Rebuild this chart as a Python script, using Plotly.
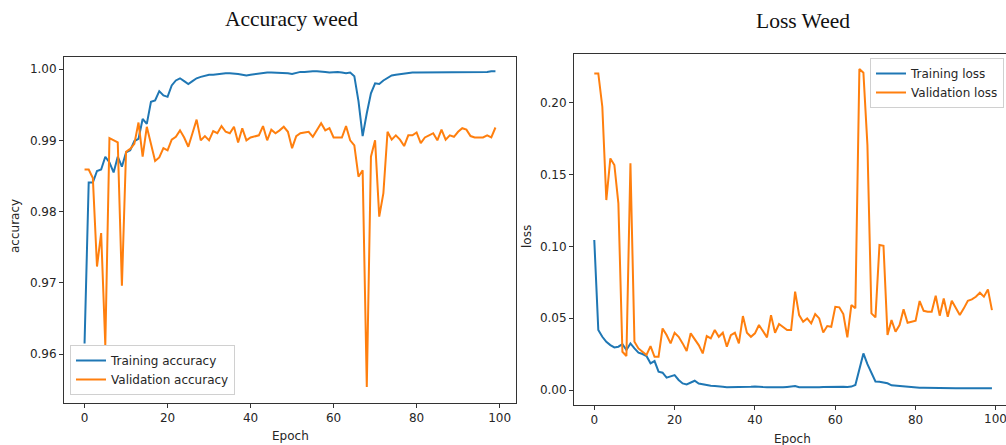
import plotly.graph_objects as go

epochs = list(range(100))

train_acc = [
    0.9615, 0.9841, 0.9841, 0.9857, 0.9859, 0.9877, 0.9869, 0.9855, 0.9877, 0.9863,
    0.9883, 0.9886, 0.9899, 0.9902, 0.9930, 0.9923, 0.9954, 0.9956, 0.9969, 0.9963,
    0.9961, 0.9977, 0.9984, 0.9987, 0.9983, 0.9979, 0.9983, 0.9987, 0.9989, 0.9991,
    0.9992, 0.9992, 0.9993, 0.9993, 0.9994, 0.9994, 0.9994, 0.9993, 0.9992, 0.9991,
    0.9992, 0.9993, 0.9994, 0.9995, 0.9995, 0.9995, 0.9995, 0.9995, 0.9995, 0.9994,
    0.9993, 0.9995, 0.9996, 0.9996, 0.9997, 0.9997, 0.9997, 0.9997, 0.9996, 0.9995,
    0.9996, 0.9996, 0.9995, 0.9994, 0.9995, 0.9990, 0.9955, 0.9906, 0.9938, 0.9966,
    0.9980, 0.9979, 0.9984, 0.9988, 0.9991, 0.9992, 0.9993, 0.9994, 0.9995, 0.9995,
    0.9995, 0.9995, 0.9995, 0.9995, 0.9995, 0.9996, 0.9996, 0.9996, 0.9996, 0.9996,
    0.9996, 0.9996, 0.9996, 0.9996, 0.9996, 0.9996, 0.9996, 0.9996, 0.9997, 0.9997,
]

val_acc = [
    0.9859, 0.9859, 0.9847, 0.9723, 0.9770, 0.9613, 0.9903, 0.9900, 0.9897, 0.9696,
    0.9884, 0.9888, 0.9895, 0.9925, 0.9877, 0.9919, 0.9896, 0.9871, 0.9876, 0.9889,
    0.9886, 0.9901, 0.9905, 0.9914, 0.9904, 0.9891, 0.9910, 0.9929, 0.9900, 0.9906,
    0.9900, 0.9913, 0.9910, 0.9920, 0.9912, 0.9910, 0.9919, 0.9897, 0.9917, 0.9900,
    0.9904, 0.9906, 0.9907, 0.9920, 0.9900, 0.9915, 0.9910, 0.9914, 0.9919, 0.9912,
    0.9889, 0.9906, 0.9910, 0.9911, 0.9912, 0.9905, 0.9914, 0.9924, 0.9914, 0.9917,
    0.9904, 0.9904, 0.9904, 0.9920, 0.9900, 0.9893, 0.9849, 0.9858, 0.9554, 0.9877,
    0.9900, 0.9793, 0.9826, 0.9912, 0.9901, 0.9907, 0.9901, 0.9892, 0.9907, 0.9907,
    0.9911, 0.9896, 0.9904, 0.9907, 0.9910, 0.9900, 0.9915, 0.9901, 0.9907, 0.9905,
    0.9912, 0.9917, 0.9915, 0.9906, 0.9904, 0.9904, 0.9904, 0.9907, 0.9904, 0.9918,
]

train_loss = [
    0.1045, 0.0418, 0.0371, 0.0336, 0.0313, 0.0297, 0.0302, 0.0320, 0.0279, 0.0325,
    0.0290, 0.0260, 0.0251, 0.0237, 0.0186, 0.0202, 0.0128, 0.0121, 0.0086, 0.0097,
    0.0104, 0.0070, 0.0046, 0.0039, 0.0051, 0.0065, 0.0046, 0.0039, 0.0035, 0.0030,
    0.0028, 0.0028, 0.0023, 0.0019, 0.0019, 0.0019, 0.0019, 0.0021, 0.0023, 0.0023,
    0.0025, 0.0021, 0.0021, 0.0020, 0.0019, 0.0019, 0.0018, 0.0019, 0.0022, 0.0026,
    0.0028, 0.0020, 0.0019, 0.0018, 0.0018, 0.0018, 0.0019, 0.0022, 0.0023, 0.0020,
    0.0020, 0.0021, 0.0023, 0.0022, 0.0024, 0.0035, 0.0140, 0.0255, 0.0180, 0.0120,
    0.0060, 0.0058, 0.0055, 0.0047, 0.0033, 0.0030, 0.0029, 0.0026, 0.0020, 0.0018,
    0.0017, 0.0016, 0.0016, 0.0015, 0.0015, 0.0015, 0.0015, 0.0014, 0.0014, 0.0014,
    0.0013, 0.0013, 0.0013, 0.0013, 0.0013, 0.0012, 0.0012, 0.0012, 0.0012, 0.0012,
]

val_loss = [
    0.2205, 0.2205, 0.1973, 0.1323, 0.1613, 0.1567, 0.1300, 0.0267, 0.0237, 0.1579,
    0.0337, 0.0290, 0.0267, 0.0244, 0.0306, 0.0232, 0.0232, 0.0429, 0.0383, 0.0325,
    0.0399, 0.0371, 0.0325, 0.0272, 0.0395, 0.0353, 0.0313, 0.0255, 0.0376, 0.0360,
    0.0418, 0.0371, 0.0399, 0.0302, 0.0383, 0.0399, 0.0325, 0.0515, 0.0399, 0.0371,
    0.0395, 0.0453, 0.0406, 0.0367, 0.0522, 0.0399, 0.0460, 0.0441, 0.0418, 0.0418,
    0.0685, 0.0522, 0.0476, 0.0499, 0.0464, 0.0529, 0.0499, 0.0401, 0.0446, 0.0441,
    0.0580, 0.0576, 0.0529, 0.0367, 0.0592, 0.0569, 0.2235, 0.2210, 0.1706, 0.0534,
    0.0506, 0.1010, 0.1005, 0.0383, 0.0487, 0.0406, 0.0453, 0.0562, 0.0469, 0.0476,
    0.0483, 0.0620, 0.0552, 0.0545, 0.0545, 0.0657, 0.0518, 0.0638, 0.0511, 0.0622,
    0.0569, 0.0522, 0.0569, 0.0622, 0.0631, 0.0650, 0.0678, 0.0650, 0.0701, 0.0557,
]

x_ticks = [0, 20, 40, 60, 80, 100]
x_labels = ["0", "20", "40", "60", "80", "100"]
acc_ticks = [0.96, 0.97, 0.98, 0.99, 1.00]
loss_ticks = [0.00, 0.05, 0.10, 0.15, 0.20]

BLUE = "#1f77b4"
ORANGE = "#ff7f0e"
TXT = "#262626"
W, H = 1006, 445

fig = go.Figure()
fig.add_trace(go.Scatter(x=epochs, y=train_acc, mode="lines", name="Training accuracy",
                         line=dict(color=BLUE, width=2), xaxis="x", yaxis="y", legend="legend"))
fig.add_trace(go.Scatter(x=epochs, y=val_acc, mode="lines", name="Validation accuracy",
                         line=dict(color=ORANGE, width=2), xaxis="x", yaxis="y", legend="legend"))
fig.add_trace(go.Scatter(x=epochs, y=train_loss, mode="lines", name="Training loss",
                         line=dict(color=BLUE, width=2), xaxis="x2", yaxis="y2", legend="legend2"))
fig.add_trace(go.Scatter(x=epochs, y=val_loss, mode="lines", name="Validation loss",
                         line=dict(color=ORANGE, width=2), xaxis="x2", yaxis="y2", legend="legend2"))

tick_font = dict(family="DejaVu Sans", size=12, color=TXT)
axis_common = dict(showline=True, linecolor="#333", linewidth=1, mirror=True,
                   ticks="outside", ticklen=4, tickwidth=1, tickcolor="#333",
                   showgrid=False, zeroline=False, tickfont=tick_font)

# right panel is cropped at the page edge: its last tick label is drawn as an annotation
right_labels = x_labels[:-1] + [""]

fig.update_layout(
    width=W, height=H,
    margin=dict(l=0, r=0, t=0, b=0),
    paper_bgcolor="white", plot_bgcolor="white",
    xaxis=dict(domain=[64 / W, 516 / W], range=[-4.95, 103.95], tickvals=x_ticks,
               ticktext=x_labels, anchor="y", **axis_common),
    yaxis=dict(domain=[1 - 403 / H, 1 - 56.7 / H], range=[0.95316, 1.00173],
               tickvals=acc_ticks, tickformat=".2f", anchor="x", **axis_common),
    xaxis2=dict(domain=[574 / W, 1.0], range=[-5.05, 102.5], tickvals=x_ticks,
                ticktext=right_labels, anchor="y2", **axis_common),
    yaxis2=dict(domain=[1 - 405 / H, 1 - 54 / H], range=[-0.0104, 0.2340],
                tickvals=loss_ticks, tickformat=".2f", anchor="x2", **axis_common),
    legend=dict(x=70 / W, y=1 - 395 / H, xanchor="left", yanchor="bottom",
                bgcolor="rgba(255,255,255,0.8)", bordercolor="#d0d0d0", borderwidth=1,
                font=tick_font, tracegroupgap=0),
    legend2=dict(x=1004 / W, y=1 - 58 / H, xanchor="right", yanchor="top",
                 bgcolor="rgba(255,255,255,0.8)", bordercolor="#d0d0d0", borderwidth=1,
                 font=tick_font, tracegroupgap=0),
    showlegend=True,
)

fig.add_annotation(text=x_labels[-1], x=x_ticks[-1], xref="x2", y=1 - 418.5 / H, yref="paper",
                   showarrow=False, xanchor="center", yanchor="middle", font=tick_font)

fig.add_annotation(text="Accuracy weed", x=291 / W, y=1 - 19 / H, xref="paper", yref="paper",
                   showarrow=False, xanchor="center", yanchor="middle",
                   font=dict(family="Liberation Serif", size=21.5, color="#111"))
fig.add_annotation(text="Loss Weed", x=803 / W, y=1 - 21 / H, xref="paper", yref="paper",
                   showarrow=False, xanchor="center", yanchor="middle",
                   font=dict(family="Liberation Serif", size=21.5, color="#111"))
fig.add_annotation(text="Epoch", x=290 / W, y=1 - 436 / H, xref="paper", yref="paper",
                   showarrow=False, xanchor="center", yanchor="middle", font=tick_font)
fig.add_annotation(text="Epoch", x=792 / W, y=1 - 439 / H, xref="paper", yref="paper",
                   showarrow=False, xanchor="center", yanchor="middle", font=tick_font)
fig.add_annotation(text="accuracy", x=15 / W, y=1 - 226 / H, xref="paper", yref="paper",
                   showarrow=False, xanchor="center", yanchor="middle", textangle=-90,
                   font=tick_font)
fig.add_annotation(text="loss", x=527 / W, y=1 - 237 / H, xref="paper", yref="paper",
                   showarrow=False, xanchor="center", yanchor="middle", textangle=-90,
                   font=tick_font)

fig.write_html("out.html")
